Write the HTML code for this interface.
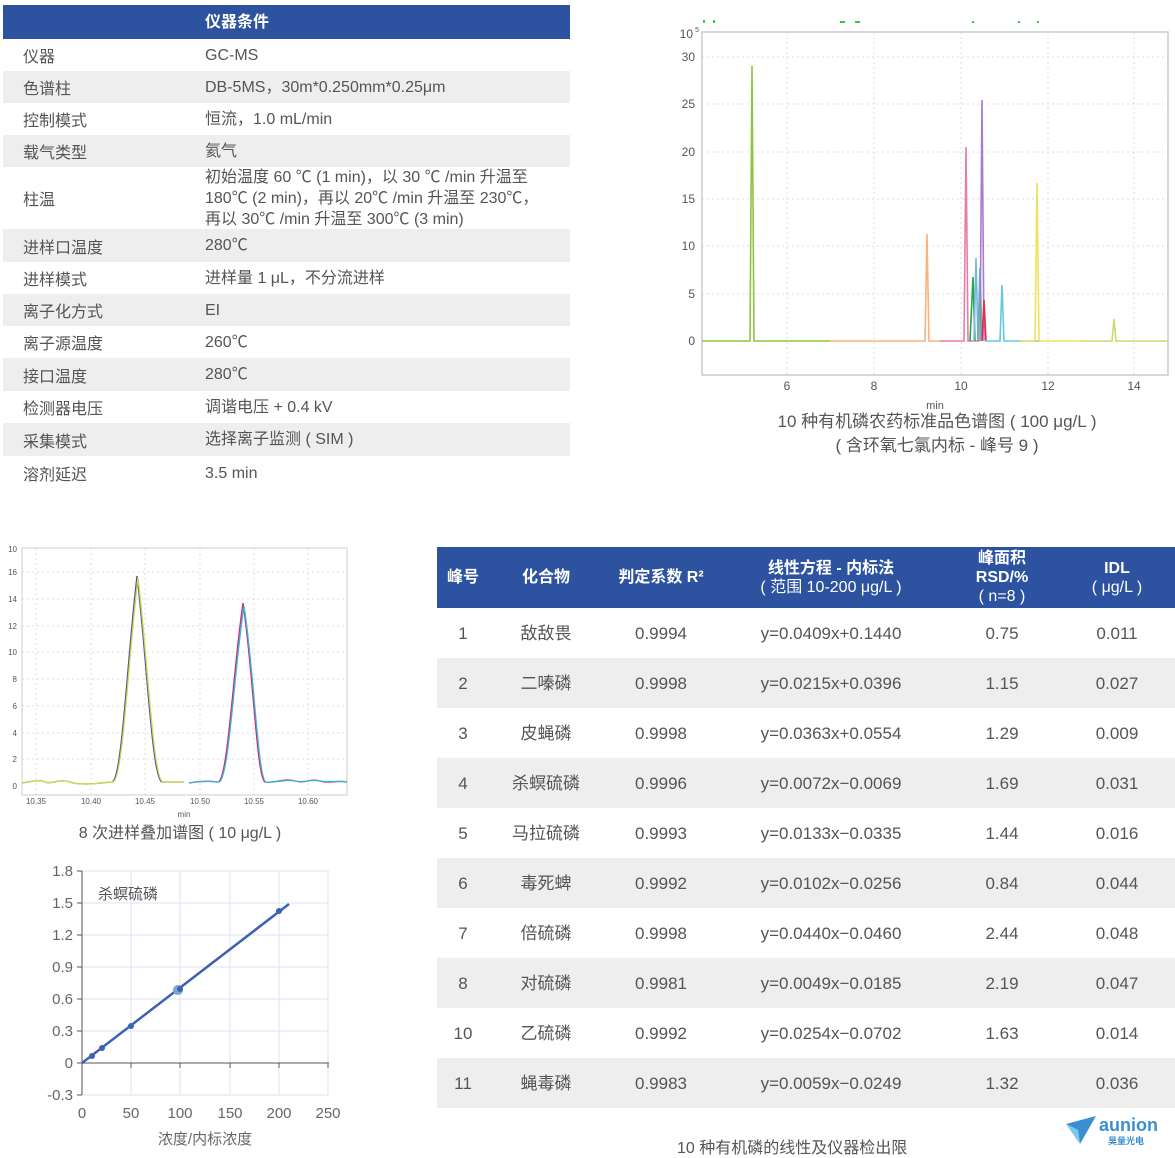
<!DOCTYPE html>
<html><head><meta charset="utf-8"><style>
*{margin:0;padding:0;box-sizing:border-box}
body{width:1175px;height:1156px;background:#fff;position:relative;overflow:hidden;font-family:"Liberation Sans","Noto Sans CJK SC",sans-serif;color:#555}
.a{position:absolute}
.lt{position:absolute;left:3px;width:567px;font-size:16px}
.lt .r{position:absolute;left:0;width:567px;display:flex;align-items:center}
.lt .c1{position:absolute;left:20px}
.lt .c2{position:absolute;left:202px;line-height:21px}
.g{background:#eeeeef}
.hd{background:#2c52a0;color:#fff;font-weight:bold}
.rt{position:absolute;left:437px;top:547px;width:738px;font-size:17px}
.rt .r{position:absolute;left:0;width:738px;height:50px}
.rt .c{position:absolute;top:0;height:100%;display:flex;flex-direction:column;align-items:center;justify-content:center;text-align:center;transform:translateX(-50%);white-space:nowrap;line-height:19px}
.rt .c div{display:block}
.n{font-weight:normal}
</style></head><body>

<div class="lt" style="top:5px">
<div class="r hd" style="top:0;height:34px"><span class="c2" style="font-size:16px">仪器条件</span></div>
<div class="r" style="top:34px;height:32px"><span class="c1">仪器</span><span class="c2">GC-MS</span></div>
<div class="r g" style="top:66px;height:32px"><span class="c1">色谱柱</span><span class="c2">DB-5MS，30m*0.250mm*0.25μm</span></div>
<div class="r" style="top:98px;height:32px"><span class="c1">控制模式</span><span class="c2">恒流，1.0 mL/min</span></div>
<div class="r g" style="top:130px;height:32px"><span class="c1">载气类型</span><span class="c2">氦气</span></div>
<div class="r" style="top:162px;height:62px"><span class="c1">柱温</span><span class="c2">初始温度 60 ℃ (1 min)，以 30 ℃ /min 升温至<br>180℃ (2 min)，再以 20℃ /min 升温至 230℃，<br>再以 30℃ /min 升温至 300℃ (3 min)</span></div>
<div class="r g" style="top:224px;height:33px"><span class="c1">进样口温度</span><span class="c2">280℃</span></div>
<div class="r" style="top:257px;height:32px"><span class="c1">进样模式</span><span class="c2">进样量 1 μL，不分流进样</span></div>
<div class="r g" style="top:289px;height:32px"><span class="c1">离子化方式</span><span class="c2">EI</span></div>
<div class="r" style="top:321px;height:32px"><span class="c1">离子源温度</span><span class="c2">260℃</span></div>
<div class="r g" style="top:353px;height:33px"><span class="c1">接口温度</span><span class="c2">280℃</span></div>
<div class="r" style="top:386px;height:32px"><span class="c1">检测器电压</span><span class="c2">调谐电压 + 0.4 kV</span></div>
<div class="r g" style="top:418px;height:33px"><span class="c1">采集模式</span><span class="c2">选择离子监测 ( SIM )</span></div>
<div class="r" style="top:451px;height:34px"><span class="c1">溶剂延迟</span><span class="c2">3.5 min</span></div>
</div>

<!-- chromatogram -->
<svg class="a" style="left:0;top:0" width="1175" height="470" font-family="Liberation Sans, sans-serif">
<g stroke="#ddd" stroke-dasharray="2,3" stroke-width="1">
<line x1="702" x2="1168" y1="57" y2="57"/><line x1="702" x2="1168" y1="104" y2="104"/><line x1="702" x2="1168" y1="152" y2="152"/><line x1="702" x2="1168" y1="199" y2="199"/><line x1="702" x2="1168" y1="246" y2="246"/><line x1="702" x2="1168" y1="294" y2="294"/>
<line x1="787" x2="787" y1="32" y2="375"/><line x1="874" x2="874" y1="32" y2="375"/><line x1="961" x2="961" y1="32" y2="375"/><line x1="1048" x2="1048" y1="32" y2="375"/><line x1="1134" x2="1134" y1="32" y2="375"/>
</g>
<path d="M702,375V32H1168V375Z" fill="none" stroke="#ccc" stroke-width="1.5"/>
<g font-size="12" fill="#555" text-anchor="end">
<text x="695" y="61">30</text><text x="695" y="108">25</text><text x="695" y="156">20</text><text x="695" y="203">15</text><text x="695" y="250">10</text><text x="695" y="298">5</text><text x="695" y="345">0</text>
<text x="693" y="38">10</text><text x="699" y="32" font-size="7">5</text>
</g>
<g font-size="12" fill="#555" text-anchor="middle">
<text x="787" y="390">6</text><text x="874" y="390">8</text><text x="961" y="390">10</text><text x="1048" y="390">12</text><text x="1134" y="390">14</text>
<text x="935" y="409" font-size="11">min</text>
</g>
<g fill="none" stroke-width="1.6">
<path d="M702,341H750L752,66L754,341H830" stroke="#8cc63f"/>
<path d="M830,341H925L927,234L929,341H940" stroke="#f8b37a"/>
<path d="M940,341H964L966,147L968,341H980" stroke="#e87ca8"/>
<path d="M970,341L973,277L975,341" stroke="#22aa44"/>
<path d="M974,341L976,258L978,341" stroke="#7ab4e6"/>
<path d="M978,341L980,268L982,341" stroke="#4cc0a0"/>
<path d="M980,341L982,100L984,341" stroke="#a57cd0"/>
<path d="M982,341L984,300L986,341" stroke="#e03040"/>
<path d="M985,341H1000L1002,285L1004,341H1040" stroke="#66c8e0"/>
<path d="M1020,341H1035L1037,183L1039,341H1080" stroke="#f0e060"/>
<path d="M1080,341H1112L1114,319L1116,341H1168" stroke="#c8dc70"/>
</g>
<g fill="#3c3" ><rect x="703" y="20" width="2" height="3"/><rect x="713" y="20" width="2" height="3"/><rect x="840" y="21" width="5" height="2"/><rect x="855" y="21" width="5" height="2"/><rect x="972" y="21" width="2" height="2"/><rect x="1018" y="21" width="2" height="2"/><rect x="1037" y="21" width="2" height="2"/></g>
<text x="937" y="427" font-size="17" fill="#555" text-anchor="middle" font-family="Liberation Sans, Noto Sans CJK SC, sans-serif">10 种有机磷农药标准品色谱图 ( 100 μg/L )</text>
<text x="937" y="451" font-size="17" fill="#555" text-anchor="middle" font-family="Liberation Sans, Noto Sans CJK SC, sans-serif">( 含环氧七氯内标 - 峰号 9 )</text>
</svg>

<!-- overlay -->
<svg class="a" style="left:0;top:540px" width="360" height="310" font-family="Liberation Sans, sans-serif">
<g stroke="#ddd" stroke-dasharray="2,3">
<line x1="22" x2="347" y1="32" y2="32"/><line x1="22" x2="347" y1="59" y2="59"/><line x1="22" x2="347" y1="86" y2="86"/><line x1="22" x2="347" y1="112" y2="112"/><line x1="22" x2="347" y1="139" y2="139"/><line x1="22" x2="347" y1="166" y2="166"/><line x1="22" x2="347" y1="193" y2="193"/><line x1="22" x2="347" y1="219" y2="219"/>
<line y1="8" y2="255" x1="36" x2="36"/><line y1="8" y2="255" x1="91" x2="91"/><line y1="8" y2="255" x1="145" x2="145"/><line y1="8" y2="255" x1="200" x2="200"/><line y1="8" y2="255" x1="254" x2="254"/><line y1="8" y2="255" x1="308" x2="308"/>
</g>
<path d="M22,255V8H347V255Z" fill="none" stroke="#ccc"/>
<g font-size="8" fill="#555" text-anchor="end">
<text x="17" y="12">10</text><text x="17" y="35">16</text><text x="17" y="62">14</text><text x="17" y="89">12</text><text x="17" y="115">10</text><text x="17" y="142">8</text><text x="17" y="169">6</text><text x="17" y="196">4</text><text x="17" y="222">2</text><text x="17" y="249">0</text>
</g>
<g font-size="8" fill="#555" text-anchor="middle">
<text x="36" y="264">10.35</text><text x="91" y="264">10.40</text><text x="145" y="264">10.45</text><text x="200" y="264">10.50</text><text x="254" y="264">10.55</text><text x="308" y="264">10.60</text><text x="184" y="277">min</text>
</g>
<g fill="none" stroke-width="1.3">
<path d="M22,243C35,241 40,239 45,242S60,238 70,242S100,243 112,242C122,240 127,120 137,36C147,120 152,240 162,242H184" stroke="#5a4bb0"/>
<path d="M22,243C35,241 40,239 45,242S60,238 70,242S100,243 113,242C123,240 128,120 138,38C148,120 153,240 163,242H184" stroke="#c8e040"/>
<path d="M189,243C200,241 210,241 218,242C228,240 233,130 243,63C253,130 257,240 265,242C275,243 285,238 295,241S310,238 320,241S335,240 347,242" stroke="#e0206a"/>
<path d="M189,243C200,241 210,241 219,242C229,240 234,130 244,66C254,130 258,240 266,242C275,243 285,239 295,241S310,239 320,241S335,240 347,242" stroke="#30b8d8"/>
</g>
<text x="180" y="298" font-size="16" fill="#555" text-anchor="middle" font-family="Liberation Sans, Noto Sans CJK SC, sans-serif">8 次进样叠加谱图 ( 10 μg/L )</text>
</svg>

<!-- calibration -->
<svg class="a" style="left:0;top:855px" width="360" height="300" font-family="Liberation Sans, Noto Sans CJK SC, sans-serif">
<g stroke="#dde6f2">
<line x1="82" x2="329" y1="16" y2="16"/><line x1="82" x2="329" y1="48" y2="48"/><line x1="82" x2="329" y1="80" y2="80"/><line x1="82" x2="329" y1="112" y2="112"/><line x1="82" x2="329" y1="144" y2="144"/><line x1="82" x2="329" y1="176" y2="176"/><line x1="82" x2="329" y1="240" y2="240"/>
<line y1="16" y2="240" x1="131" x2="131"/><line y1="16" y2="240" x1="180" x2="180"/><line y1="16" y2="240" x1="230" x2="230"/><line y1="16" y2="240" x1="279" x2="279"/><line y1="16" y2="240" x1="328" x2="328"/>
</g>
<g stroke="#555"><line x1="82" x2="82" y1="16" y2="240"/><line x1="82" x2="329" y1="208" y2="208"/>
<line x1="77" x2="82" y1="16" y2="16"/><line x1="77" x2="82" y1="48" y2="48"/><line x1="77" x2="82" y1="80" y2="80"/><line x1="77" x2="82" y1="112" y2="112"/><line x1="77" x2="82" y1="144" y2="144"/><line x1="77" x2="82" y1="176" y2="176"/><line x1="77" x2="82" y1="208" y2="208"/><line x1="77" x2="82" y1="240" y2="240"/>
<line y1="208" y2="213" x1="131" x2="131"/><line y1="208" y2="213" x1="180" x2="180"/><line y1="208" y2="213" x1="230" x2="230"/><line y1="208" y2="213" x1="279" x2="279"/><line y1="208" y2="213" x1="328" x2="328"/></g>
<g font-size="15" fill="#666" text-anchor="end">
<text x="73" y="21">1.8</text><text x="73" y="53">1.5</text><text x="73" y="85">1.2</text><text x="73" y="117">0.9</text><text x="73" y="149">0.6</text><text x="73" y="181">0.3</text><text x="73" y="213">0</text><text x="73" y="245">-0.3</text>
</g>
<g font-size="15" fill="#666" text-anchor="middle">
<text x="82" y="263">0</text><text x="131" y="263">50</text><text x="180" y="263">100</text><text x="230" y="263">150</text><text x="279" y="263">200</text><text x="328" y="263">250</text>
<text x="205" y="289">浓度/内标浓度</text>
</g>
<text x="98" y="44" font-size="15" fill="#555">杀螟硫磷</text>
<line x1="82" y1="208" x2="289" y2="49" stroke="#3d62b0" stroke-width="2.5"/>
<g fill="#3d62b0"><circle cx="92" cy="201" r="3"/><circle cx="102" cy="193" r="3"/><circle cx="131" cy="171" r="3"/><circle cx="178" cy="135" r="5" fill="#7aa4d8"/><circle cx="180" cy="134" r="3"/><circle cx="279" cy="56" r="3"/></g>
</svg>

<!-- right table -->
<div class="rt">
<div class="r hd" style="top:0;height:61px;font-size:16px">
<div class="c" style="left:26px"><div>峰号</div></div>
<div class="c" style="left:109px"><div>化合物</div></div>
<div class="c" style="left:224px"><div>判定系数 R²</div></div>
<div class="c" style="left:394px"><div>线性方程 - 内标法</div><div class="n">( 范围 10-200 μg/L )</div></div>
<div class="c" style="left:565px"><div>峰面积</div><div>RSD/%</div><div class="n">( n=8 )</div></div>
<div class="c" style="left:680px"><div>IDL</div><div class="n">( μg/L )</div></div>
</div>
<div class="r" style="top:61px"><span class="c" style="left:26px">1</span><span class="c" style="left:109px">敌敌畏</span><span class="c" style="left:224px">0.9994</span><span class="c" style="left:394px">y=0.0409x+0.1440</span><span class="c" style="left:565px">0.75</span><span class="c" style="left:680px">0.011</span></div>
<div class="r g" style="top:111px"><span class="c" style="left:26px">2</span><span class="c" style="left:109px">二嗪磷</span><span class="c" style="left:224px">0.9998</span><span class="c" style="left:394px">y=0.0215x+0.0396</span><span class="c" style="left:565px">1.15</span><span class="c" style="left:680px">0.027</span></div>
<div class="r" style="top:161px"><span class="c" style="left:26px">3</span><span class="c" style="left:109px">皮蝇磷</span><span class="c" style="left:224px">0.9998</span><span class="c" style="left:394px">y=0.0363x+0.0554</span><span class="c" style="left:565px">1.29</span><span class="c" style="left:680px">0.009</span></div>
<div class="r g" style="top:211px"><span class="c" style="left:26px">4</span><span class="c" style="left:109px">杀螟硫磷</span><span class="c" style="left:224px">0.9996</span><span class="c" style="left:394px">y=0.0072x−0.0069</span><span class="c" style="left:565px">1.69</span><span class="c" style="left:680px">0.031</span></div>
<div class="r" style="top:261px"><span class="c" style="left:26px">5</span><span class="c" style="left:109px">马拉硫磷</span><span class="c" style="left:224px">0.9993</span><span class="c" style="left:394px">y=0.0133x−0.0335</span><span class="c" style="left:565px">1.44</span><span class="c" style="left:680px">0.016</span></div>
<div class="r g" style="top:311px"><span class="c" style="left:26px">6</span><span class="c" style="left:109px">毒死蜱</span><span class="c" style="left:224px">0.9992</span><span class="c" style="left:394px">y=0.0102x−0.0256</span><span class="c" style="left:565px">0.84</span><span class="c" style="left:680px">0.044</span></div>
<div class="r" style="top:361px"><span class="c" style="left:26px">7</span><span class="c" style="left:109px">倍硫磷</span><span class="c" style="left:224px">0.9998</span><span class="c" style="left:394px">y=0.0440x−0.0460</span><span class="c" style="left:565px">2.44</span><span class="c" style="left:680px">0.048</span></div>
<div class="r g" style="top:411px"><span class="c" style="left:26px">8</span><span class="c" style="left:109px">对硫磷</span><span class="c" style="left:224px">0.9981</span><span class="c" style="left:394px">y=0.0049x−0.0185</span><span class="c" style="left:565px">2.19</span><span class="c" style="left:680px">0.047</span></div>
<div class="r" style="top:461px"><span class="c" style="left:26px">10</span><span class="c" style="left:109px">乙硫磷</span><span class="c" style="left:224px">0.9992</span><span class="c" style="left:394px">y=0.0254x−0.0702</span><span class="c" style="left:565px">1.63</span><span class="c" style="left:680px">0.014</span></div>
<div class="r g" style="top:511px"><span class="c" style="left:26px">11</span><span class="c" style="left:109px">蝇毒磷</span><span class="c" style="left:224px">0.9983</span><span class="c" style="left:394px">y=0.0059x−0.0249</span><span class="c" style="left:565px">1.32</span><span class="c" style="left:680px">0.036</span></div>
</div>

<div class="a" style="left:677px;top:1134px;font-size:16px">10 种有机磷的线性及仪器检出限</div>
<svg class="a" style="left:1066px;top:1116px" width="32" height="30"><path d="M0,8L30,0L14,28L12,14Z" fill="#3a8fd0"/><path d="M0,8L12,14L14,28Z" fill="#7cc8ec"/></svg>
<div class="a" style="left:1099px;top:1115px;font-size:18px;font-weight:bold;color:#3a8fd0;line-height:20px">aunion</div>
<div class="a" style="left:1108px;top:1134px;font-size:9px;font-weight:bold;color:#3a8fd0">昊量光电</div>
</body></html>
